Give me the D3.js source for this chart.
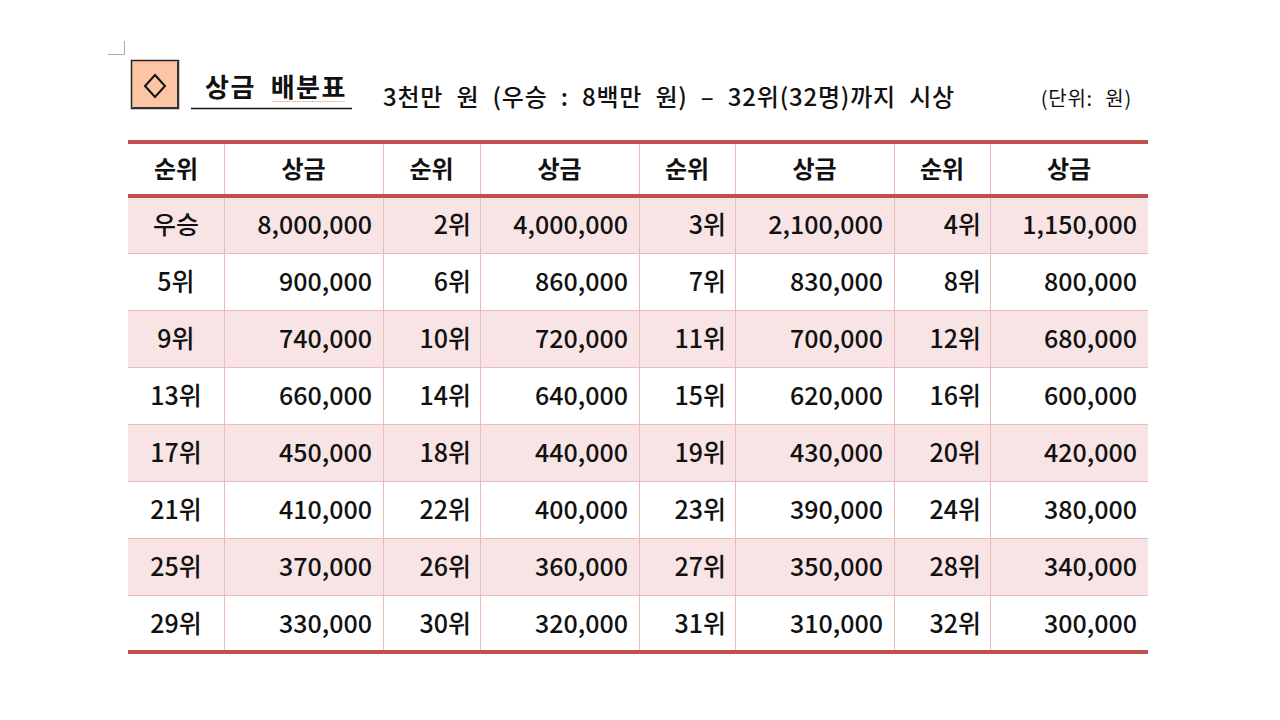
<!DOCTYPE html>
<html>
<head>
<meta charset="utf-8">
<script src="https://cdn.jsdelivr.net/npm/d3@7"></script>
<style>
  body { margin: 0; background: #fff; }
  svg { display: block; }
  text { font-family: "Noto Sans CJK KR", "Noto Sans", sans-serif; fill: #111; }
</style>
</head>
<body>
<div id="chart"></div>
<script>
// table data
const headers = ["순위", "상금", "순위", "상금", "순위", "상금", "순위", "상금"];
const ranks = [
  "우승", "2위", "3위", "4위", "5위", "6위", "7위", "8위",
  "9위", "10위", "11위", "12위", "13위", "14위", "15위", "16위",
  "17위", "18위", "19위", "20위", "21위", "22위", "23위", "24위",
  "25위", "26위", "27위", "28위", "29위", "30위", "31위", "32위"
];
const prizes = [
  8000000, 4000000, 2100000, 1150000, 900000, 860000, 830000, 800000,
  740000, 720000, 700000, 680000, 660000, 640000, 620000, 600000,
  450000, 440000, 430000, 420000, 410000, 400000, 390000, 380000,
  370000, 360000, 350000, 340000, 330000, 320000, 310000, 300000
];
const titleText = "상금 배분표";
const subtitleText = "3천만 원 (우승 : 8백만 원) – 32위(32명)까지 시상";
const unitText = "(단위: 원)";

const width = 1280, height = 720;
const svg = d3.select("#chart").append("svg")
    .attr("width", width)
    .attr("height", height);

// column edges (rank col, prize col) x 4
const colEdges = [128, 224, 383, 480, 639, 735, 894, 990, 1148];
const headerTop = 142, headerBottom = 196, tableBottom = 652;
const nRows = ranks.length / 4;

const xCol = d3.scaleOrdinal().domain(d3.range(8)).range(colEdges.slice(0, 8));
const colW = i => colEdges[i + 1] - colEdges[i];
const yRow = d3.scaleBand().domain(d3.range(nRows)).range([headerBottom, tableBottom]);

const fmt = d3.format(",");

// rows data
const rows = d3.range(nRows).map(r => d3.range(4).map(c => ({
  rank: ranks[r * 4 + c],
  prize: prizes[r * 4 + c]
})));

// small corner mark
svg.append("path")
    .attr("d", "M108,54.5H124.5V41")
    .attr("fill", "none")
    .attr("stroke", "#aaa")
    .attr("stroke-width", 1);

// title box
svg.append("rect")
    .attr("x", 131.5).attr("y", 60.5)
    .attr("width", 47).attr("height", 48)
    .attr("fill", "#fcc6a4")
    .attr("stroke", "#222")
    .attr("stroke-width", 1.5);
svg.append("rect")
    .attr("x", 177).attr("y", 62)
    .attr("width", 2).attr("height", 47)
    .attr("fill", "#333");
svg.append("rect")
    .attr("x", 133).attr("y", 107)
    .attr("width", 46).attr("height", 2)
    .attr("fill", "#333");
svg.append("path")
    .attr("d", "M155,75L165,86L155,97L145,86Z")
    .attr("fill", "none")
    .attr("stroke", "#111")
    .attr("stroke-width", 2);

svg.append("text")
    .attr("x", 276).attr("y", 97)
    .attr("text-anchor", "middle")
    .attr("font-size", 26)
    .attr("font-weight", 700)
    .attr("letter-spacing", 1.5)
    .attr("xml:space", "preserve")
    .text(titleText.replace(" ", "  "));
svg.append("line")
    .attr("x1", 191).attr("x2", 352)
    .attr("y1", 108.5).attr("y2", 108.5)
    .attr("stroke", "#111").attr("stroke-width", 1.3);
svg.append("line")
    .attr("x1", 272).attr("x2", 345)
    .attr("y1", 101.5).attr("y2", 101.5)
    .attr("stroke", "#f0a070").attr("stroke-width", 1)
    .attr("stroke-dasharray", "1.5,1");

svg.append("text")
    .attr("x", 383).attr("y", 106)
    .attr("font-size", 24)
    .attr("font-weight", 500)
    .attr("letter-spacing", 0.8)
    .attr("word-spacing", 7)
    .text(subtitleText);

svg.append("text")
    .attr("x", 1132).attr("y", 106)
    .attr("text-anchor", "end")
    .attr("font-size", 20)
    .attr("letter-spacing", 0.8)
    .attr("word-spacing", 7)
    .text(unitText);

// row backgrounds
svg.append("g")
  .selectAll("rect")
  .data(d3.range(nRows))
  .join("rect")
    .attr("x", colEdges[0])
    .attr("y", r => yRow(r))
    .attr("width", colEdges[8] - colEdges[0])
    .attr("height", yRow.bandwidth())
    .attr("fill", r => r % 2 === 0 ? "#f8e4e4" : "#fff");

// grid lines
const grid = svg.append("g")
    .attr("stroke", "#ebbcbc")
    .attr("stroke-width", 1);
grid.selectAll("line.v")
  .data(colEdges.slice(1, 8))
  .join("line")
    .attr("class", "v")
    .attr("x1", d => d + 0.5).attr("x2", d => d + 0.5)
    .attr("y1", headerTop).attr("y2", tableBottom);
grid.selectAll("line.h")
  .data(d3.range(1, nRows))
  .join("line")
    .attr("class", "h")
    .attr("x1", colEdges[0]).attr("x2", colEdges[8])
    .attr("y1", r => yRow(r) + 0.5).attr("y2", r => yRow(r) + 0.5);

// thick borders
svg.append("g")
  .selectAll("line")
  .data([headerTop, headerBottom, tableBottom])
  .join("line")
    .attr("x1", colEdges[0]).attr("x2", colEdges[8])
    .attr("y1", d => d).attr("y2", d => d)
    .attr("stroke", "#c0504d")
    .attr("stroke-width", 4);

// header text
svg.append("g")
  .selectAll("text")
  .data(headers)
  .join("text")
    .attr("x", (d, i) => xCol(i) + colW(i) / 2)
    .attr("y", (headerTop + headerBottom) / 2 + 9)
    .attr("text-anchor", "middle")
    .attr("font-size", 24)
    .attr("font-weight", 700)
    .text(d => d);

// body cells
const rowG = svg.append("g")
  .selectAll("g")
  .data(rows)
  .join("g")
    .attr("transform", (d, r) => `translate(0,${yRow(r) + yRow.bandwidth() / 2 + 9})`);

rowG.selectAll("text.rank")
  .data(d => d)
  .join("text")
    .attr("class", "rank")
    .attr("x", (d, c) => c === 0 ? xCol(0) + colW(0) / 2 : xCol(c * 2) + colW(c * 2) - 9)
    .attr("text-anchor", (d, c) => c === 0 ? "middle" : "end")
    .attr("font-size", 25)
    .attr("font-weight", 500)
    .text(d => d.rank);

rowG.selectAll("text.prize")
  .data(d => d)
  .join("text")
    .attr("class", "prize")
    .attr("x", (d, c) => xCol(c * 2 + 1) + colW(c * 2 + 1) - 11)
    .attr("text-anchor", "end")
    .attr("font-size", 25)
    .attr("font-weight", 500)
    .text(d => fmt(d.prize));
</script>
</body>
</html>
